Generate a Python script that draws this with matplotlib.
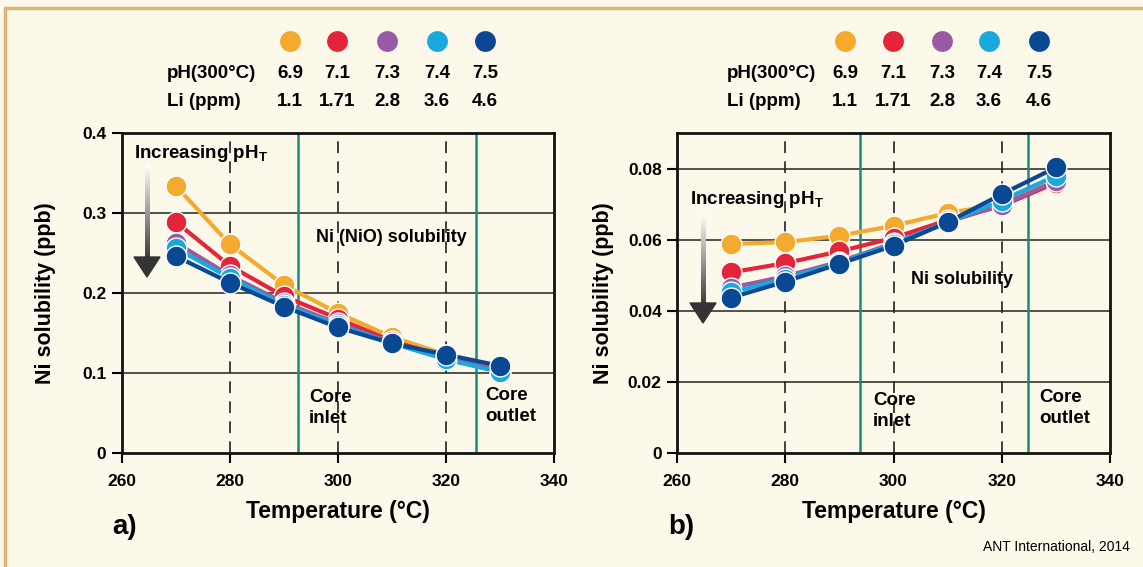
import numpy as np
import matplotlib
matplotlib.use("Agg")
import matplotlib.pyplot as plt
from matplotlib.patches import Polygon
from matplotlib.colors import LinearSegmentedColormap

plt.rcParams['font.family'] = ['Liberation Sans', 'DejaVu Sans']

# ---------------- data ----------------
temps = [270, 280, 290, 300, 310, 320, 330]
ph_labels = ["6.9", "7.1", "7.3", "7.4", "7.5"]
li_labels = ["1.1", "1.71", "2.8", "3.6", "4.6"]
colors = ["#f4aa2c", "#e3253a", "#9a5aa3", "#19a9dc", "#0b4894"]

nio_orange = [0.334, 0.261, 0.210, 0.175, 0.145, 0.123, 0.105]
nio_red    = [0.289, 0.234, 0.196, 0.168, 0.140, 0.120, 0.104]
nio_purple = [0.263, 0.222, 0.188, 0.162, 0.138, 0.119, 0.103]
nio_cyan   = [0.256, 0.219, 0.185, 0.160, 0.137, 0.117, 0.101]
nio_navy   = [0.246, 0.213, 0.183, 0.157, 0.137, 0.123, 0.109]
nio_series = [nio_orange, nio_red, nio_purple, nio_cyan, nio_navy]

ni_orange = [0.0588, 0.0593, 0.0611, 0.0639, 0.0675, 0.0700, 0.0770]
ni_red    = [0.0508, 0.0534, 0.0567, 0.0605, 0.0655, 0.0695, 0.0760]
ni_purple = [0.0465, 0.0497, 0.0538, 0.0590, 0.0650, 0.0697, 0.0765]
ni_cyan   = [0.0452, 0.0490, 0.0535, 0.0587, 0.0650, 0.0710, 0.0780]
ni_navy   = [0.0437, 0.0482, 0.0532, 0.0583, 0.0649, 0.0728, 0.0803]
ni_series = [ni_orange, ni_red, ni_purple, ni_cyan, ni_navy]

x_ticks = [260, 280, 300, 320, 340]
dashed_x = [280, 300, 320]
core_lines_a = [292.6, 325.5]
core_lines_b = [293.8, 324.8]

W, H = 1143, 567
BG = "#fcf8ea"
fig = plt.figure(figsize=(W / 100, H / 100), dpi=100, facecolor=BG)

def px_axes(l, t, r, b):
    return fig.add_axes([l / W, 1 - b / H, (r - l) / W, (b - t) / H])

def setup(ax, ylim, yticks, yticklabels, grid_y, core_lines, ylabelpad):
    ax.set_facecolor(BG)
    ax.set_xlim(260, 340)
    ax.set_ylim(*ylim)
    ax.set_xticks(x_ticks)
    ax.set_xticklabels([str(t) for t in x_ticks], fontsize=12.5, fontweight='bold')
    ax.set_yticks(yticks)
    ax.set_yticklabels(yticklabels, fontsize=12.5, fontweight='bold')
    ax.tick_params(axis='x', direction='out', length=7, width=1.5, pad=8)
    ax.tick_params(axis='y', direction='out', length=7, width=1.5, pad=4)
    for s in ax.spines.values():
        s.set_linewidth(2.0)
        s.set_color("#111111")
    for gy in grid_y:
        ax.axhline(gy, color="#222222", lw=1.1, zorder=1)
    for dx in dashed_x:
        ax.axvline(dx, color="#222222", lw=1.2, ls=(0, (7, 5)), zorder=1)
    for cx in core_lines:
        ax.axvline(cx, color="#1b8a78", lw=1.8, zorder=1)
    ax.set_xlabel("Temperature (°C)", fontsize=16.5, fontweight='bold', labelpad=8)
    ax.set_ylabel("Ni solubility (ppb)", fontsize=15.5, fontweight='bold', labelpad=ylabelpad)

def plot_series(ax, series):
    for ys, c in zip(series, colors):
        ax.plot(temps, ys, color=c, lw=3.0, marker='o', ms=15,
                markerfacecolor=c, markeredgecolor='white', markeredgewidth=1.0,
                zorder=3, clip_on=False)

axa = px_axes(121.7, 133, 554, 453)
setup(axa, (0, 0.4), [0, 0.1, 0.2, 0.3, 0.4], ["0", "0.1", "0.2", "0.3", "0.4"],
      [0.1, 0.2, 0.3], core_lines_a, 19)
plot_series(axa, nio_series)

axb = px_axes(677, 133, 1110, 453)
setup(axb, (0, 0.09), [0, 0.02, 0.04, 0.06, 0.08], ["0", "0.02", "0.04", "0.06", "0.08"],
      [0.02, 0.04, 0.06, 0.08], core_lines_b, 10)
plot_series(axb, ni_series)

# overlay in pixel coordinates
ov = fig.add_axes([0, 0, 1, 1], zorder=10)
ov.patch.set_alpha(0)

# frame border (tan)
ov.plot([5, 5, W], [H, 8, 8], color="#dcb27a", lw=2.5, solid_capstyle='butt')

def legend(x0, dot_x):
    for c, dx in zip(colors, dot_x):
        ov.plot(dx, 41, 'o', ms=15, color=c, mec='none')
    ov.text(x0, 74, "pH(300°C)", fontsize=13.5, fontweight='bold', va='center', ha='left')
    ov.text(x0, 102, "Li (ppm)", fontsize=13.5, fontweight='bold', va='center', ha='left')
    for p, l, dx in zip(ph_labels, li_labels, dot_x):
        ov.text(dx, 74, p, fontsize=13.5, fontweight='bold', va='center', ha='center')
        ov.text(dx, 102, l, fontsize=13.5, fontweight='bold', va='center', ha='center')

legend(167, [290, 337, 387, 437, 485])
legend(727, [845, 893, 942, 989, 1039])

cm = LinearSegmentedColormap.from_list("g", ["#ffffff", "#3a3a3a"])

def grad_arrow(x, y0, y1, head=20, hw=13, sw=5):
    n = 120
    grad = np.linspace(0, 1, n).reshape(n, 1)
    ov.imshow(grad, cmap=cm, aspect='auto',
              extent=(x - sw / 2, x + sw / 2, y1 - head + 2, y0), zorder=11)
    ov.add_patch(Polygon([(x - hw, y1 - head), (x + hw, y1 - head), (x, y1)],
                         closed=True, color="#333333", zorder=12))

grad_arrow(147, 165, 277)
grad_arrow(703, 213, 323)
ov.set_xlim(0, W)
ov.set_ylim(H, 0)
ov.axis('off')

def txt(x, y, s, **kw):
    ov.text(x, y, s, fontsize=kw.pop('fontsize', 13.5), fontweight=kw.pop('fontweight', 'bold'),
            va=kw.pop('va', 'center'), ha=kw.pop('ha', 'left'), **kw)

txt(134, 154, r"Increasing pH$_\mathregular{T}$")
txt(690, 199, r"Increasing pH$_\mathregular{T}$")
txt(316, 238, "Ni (NiO) solubility", fontsize=13)
txt(911, 279, "Ni solubility", fontsize=13)
txt(309, 408, "Core\ninlet", linespacing=1.25)
txt(485, 406, "Core\noutlet", linespacing=1.25)
txt(873, 411, "Core\ninlet", linespacing=1.25)
txt(1039, 408, "Core\noutlet", linespacing=1.25)
txt(112, 527, "a)", fontsize=20)
txt(668, 527, "b)", fontsize=20)
txt(1130, 547, "ANT International, 2014", fontsize=10, fontweight='normal', ha='right')

fig.savefig("out.png", dpi=100, facecolor=BG)
